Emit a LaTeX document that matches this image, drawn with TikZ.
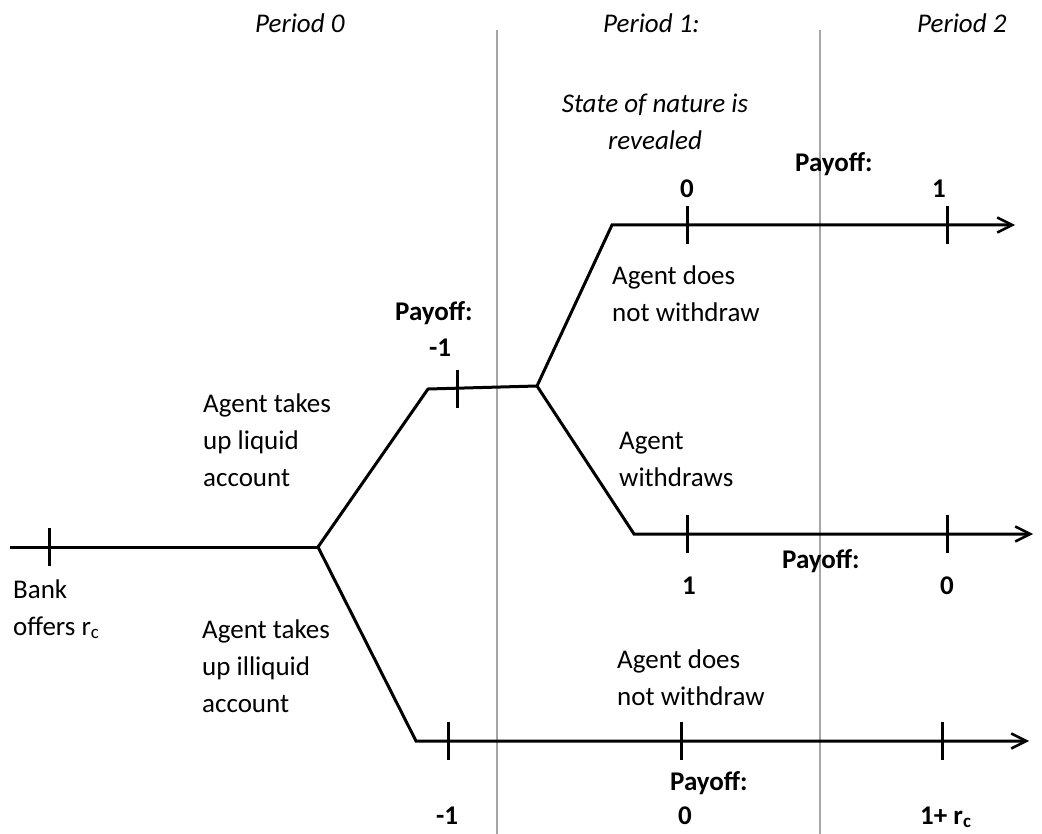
\documentclass[tikz,border=0pt]{standalone}
\usepackage{fontspec}
\setmainfont{Carlito}
\usetikzlibrary{arrows.meta}
\definecolor{guidegray}{HTML}{A6A6A6}
\newcommand{\mlines}[1]{\begin{tabular}[t]{@{}l@{}}#1\end{tabular}}
\newcommand{\clines}[1]{\begin{tabular}[t]{@{}c@{}}#1\end{tabular}}
\begin{document}
\begin{tikzpicture}[x=1pt,y=-1pt,
  txt/.style={anchor=base west,inner sep=0pt,font=\fontsize{27}{37}\selectfont},
  pay/.style={anchor=base west,inner sep=0pt,font=\fontsize{27}{37}\selectfont\bfseries},
  per/.style={anchor=base west,inner sep=0pt,font=\fontsize{27}{37}\selectfont\itshape},
  branch/.style={line width=3pt,line join=round},
  ticks/.style={line width=3pt},
  axis/.style={line width=3pt,-{Straight Barb[length=15pt,width=15pt,line width=2.5pt]}},
  guide/.style={line width=1.5pt,draw=guidegray}]
\useasboundingbox (0,0) rectangle (1042,834);

% guide lines
\coordinate (g1a) at (497,30);
\coordinate (g1b) at (497,834);
\coordinate (g2a) at (820,30);
\coordinate (g2b) at (820,834);
\draw[guide] (g1a) -- (g1b);
\draw[guide] (g2a) -- (g2b);

% tree vertices
\coordinate (start) at (10,547);
\coordinate (root) at (318,547);
\coordinate (lq) at (428,389);
\coordinate (st) at (537,386);
\coordinate (upc) at (612,225);
\coordinate (upe) at (1015,225);
\coordinate (wdc) at (634,534);
\coordinate (wde) at (1033,534);
\coordinate (ilc) at (416,741);
\coordinate (ile) at (1029,741);

\draw[branch] (start) -- (root);
\draw[branch] (root) -- (lq) -- (st);
\draw[axis] (st) -- (upc) -- (upe);
\draw[axis] (st) -- (wdc) -- (wde);
\draw[axis] (root) -- (ilc) -- (ile);

% ticks
\foreach \n/\x/\y in {t0/49/547, t1/457/389, t2/687/225, t3/947/225, t4/687/534, t5/947/534, t6/448/741, t7/681/741, t8/942/741}{
  \coordinate (\n a) at (\x,\y-19);
  \coordinate (\n b) at (\x,\y+19);
  \draw[ticks] (\n a) -- (\n b);
}

% period row
\node[per] (p0) at (255,33) {Period 0};
\node[per] (p1) at (603,33) {Period 1:};
\node[per] (p2) at (917,33) {Period 2};
\node[per,anchor=base] (state) at (655,113) {\clines{State of nature is\\revealed}};

% payoffs
\node[pay] (payA) at (795,172) {Payoff:};
\node[pay] (payA0) at (680,198) {0};
\node[pay] (payA1) at (932,198) {1};
\node[pay] (payB) at (395,321) {Payoff:};
\node[pay] (payB1) at (429,357) {-1};
\node[pay] (payC) at (782,568) {Payoff:};
\node[pay] (payC1) at (682,594) {1};
\node[pay] (payC0) at (940,594) {0};
\node[pay] (payD) at (670,790) {Payoff:};
\node[pay] (payD1) at (436,824) {-1};
\node[pay] (payD0) at (678,824) {0};
\node[pay] (payD2) at (920,824) {1+ r\textsubscript{c}};

% labels
\node[txt] (nw1) at (612,285) {\mlines{Agent does\\not withdraw}};
\node[txt] (liq) at (203,412) {\mlines{Agent takes\\up liquid\\account}};
\node[txt] (wd) at (619,449) {\mlines{Agent\\withdraws}};
\node[txt] (bank) at (13,598) {\mlines{Bank\\offers r\textsubscript{c}}};
\node[txt] (ill) at (202,638) {\mlines{Agent takes\\up illiquid\\account}};
\node[txt] (nw2) at (617,668) {\mlines{Agent does\\not withdraw}};
\end{tikzpicture}
\end{document}
